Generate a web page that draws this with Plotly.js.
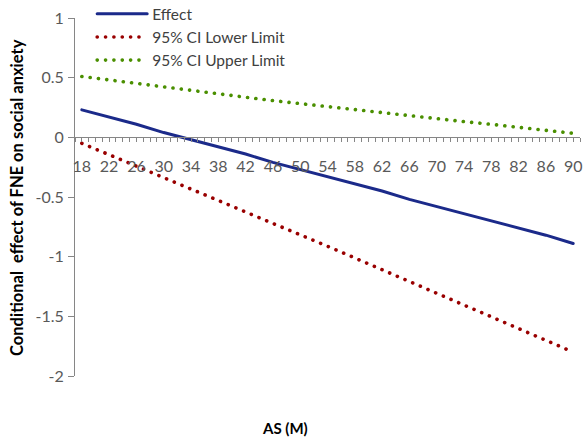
<!DOCTYPE html>
<html><head><meta charset="utf-8">
<script src="https://cdn.plot.ly/plotly-3.0.1.min.js"></script>
<style>
html,body{margin:0;padding:0;background:#fff;}
#chart{width:584px;height:437px;}
path.js-line{stroke-linecap:round !important;}
</style></head>
<body><div id="chart"></div>
<script>
// AS (M) values
const asValues = [18,22,26,30,34,38,42,46,50,54,58,62,66,70,74,78,82,86,90];
// Conditional effect of FNE on social anxiety
const effect  = [0.23,0.17,0.11,0.04,-0.02,-0.08,-0.14,-0.21,-0.27,-0.33,-0.39,-0.45,-0.52,-0.58,-0.64,-0.70,-0.76,-0.82,-0.89];
const lowerCI = [-0.05,-0.145,-0.24,-0.336,-0.431,-0.527,-0.622,-0.719,-0.816,-0.913,-1.011,-1.109,-1.207,-1.306,-1.405,-1.505,-1.604,-1.704,-1.80];
const upperCI = [0.51,0.48,0.451,0.422,0.394,0.366,0.336,0.308,0.282,0.257,0.231,0.204,0.178,0.156,0.132,0.109,0.086,0.062,0.034];
const seriesNames = ['Effect','95% CI Lower Limit','95% CI Upper Limit'];
const xTickVals = [18,22,26,30,34,38,42,46,50,54,58,62,66,70,74,78,82,86,90];
const xTickText = ['18','22','26','30','34','38','42','46','50','54','58','62','66','70','74','78','82','86','90'];
const yTickVals = [1,0.5,0,-0.5,-1,-1.5,-2];
const yTickText = ['1','0.5','0','-0.5','-1','-1.5','-2'];

const FONT = 'Lato, "Open Sans", sans-serif';
const dotDash = '0.1px,8.25px';

const traces = [
  {x: asValues, y: effect, name: seriesNames[0], mode: 'lines', legendgroup: 'a',
   line: {color: '#1b2a8a', width: 3}},
  {x: asValues, y: lowerCI, name: seriesNames[1], mode: 'lines', legendgroup: 'b',
   line: {color: '#990000', width: 3.6, dash: dotDash}},
  {x: asValues, y: upperCI, name: seriesNames[2], mode: 'lines', legendgroup: 'c',
   line: {color: '#4a8f00', width: 3.6, dash: dotDash}}
];

const axisGrey = '#868686';
const layout = {
  width: 584, height: 437,
  margin: {l: 75, r: 4, t: 18, b: 61, pad: 0, autoexpand: false},
  paper_bgcolor: '#ffffff', plot_bgcolor: '#ffffff',
  font: {family: FONT, size: 16, color: '#595959'},
  showlegend: true,
  legend: {x: 0.034, y: 1.058, xanchor: 'left', yanchor: 'top', bgcolor: 'rgba(0,0,0,0)',
           font: {family: FONT, size: 15.5, color: '#404040'}, tracegroupgap: 0, itemwidth: 50},
  xaxis: {range: [17, 91], anchor: 'free', position: 2/3,
          tickmode: 'array', tickvals: xTickVals, ticktext: xTickText,
          ticks: 'outside', ticklen: 4, tickcolor: axisGrey, tickwidth: 1, ticklabelstandoff: 10,
          minor: {tickmode: 'linear', tick0: 17, dtick: 1, ticks: 'outside', ticklen: 4, tickcolor: axisGrey, tickwidth: 1, showgrid: false},
          showline: true, linecolor: axisGrey, linewidth: 1,
          showgrid: false, zeroline: false, fixedrange: true,
          tickfont: {family: FONT, size: 16, color: '#595959'}},
  xaxis2: {range: [17, 91], overlaying: 'x', anchor: 'free', position: 2/3,
           tickmode: 'linear', tick0: 17, dtick: 1, ticks: 'inside', ticklen: 3,
           tickcolor: axisGrey, showticklabels: false, showline: false, showgrid: false, zeroline: false},
  yaxis: {range: [-2, 1], tickmode: 'array', tickvals: yTickVals, ticktext: yTickText,
          ticks: 'outside', ticklen: 6, tickcolor: axisGrey, ticklabelstandoff: 1,
          showline: true, linecolor: axisGrey, linewidth: 1,
          showgrid: false, zeroline: false, fixedrange: true,
          tickfont: {family: FONT, size: 16, color: '#595959'}},
  annotations: [
    {text: 'Conditional  effect of FNE on social anxiety', xref: 'paper', yref: 'paper',
     x: -0.115, y: 0.5, xanchor: 'center', yanchor: 'middle', textangle: -90, showarrow: false,
     font: {family: FONT, size: 16.5, color: '#000000', weight: 'bold'}},
    {text: 'AS (M)', xref: 'paper', yref: 'paper', x: 0.416, y: -0.144,
     xanchor: 'center', yanchor: 'middle', showarrow: false,
     font: {family: FONT, size: 15, color: '#000000', weight: 'bold'}}
  ]
};

Plotly.newPlot('chart', traces, layout, {staticPlot: true, displayModeBar: false});
</script>
</body></html>
